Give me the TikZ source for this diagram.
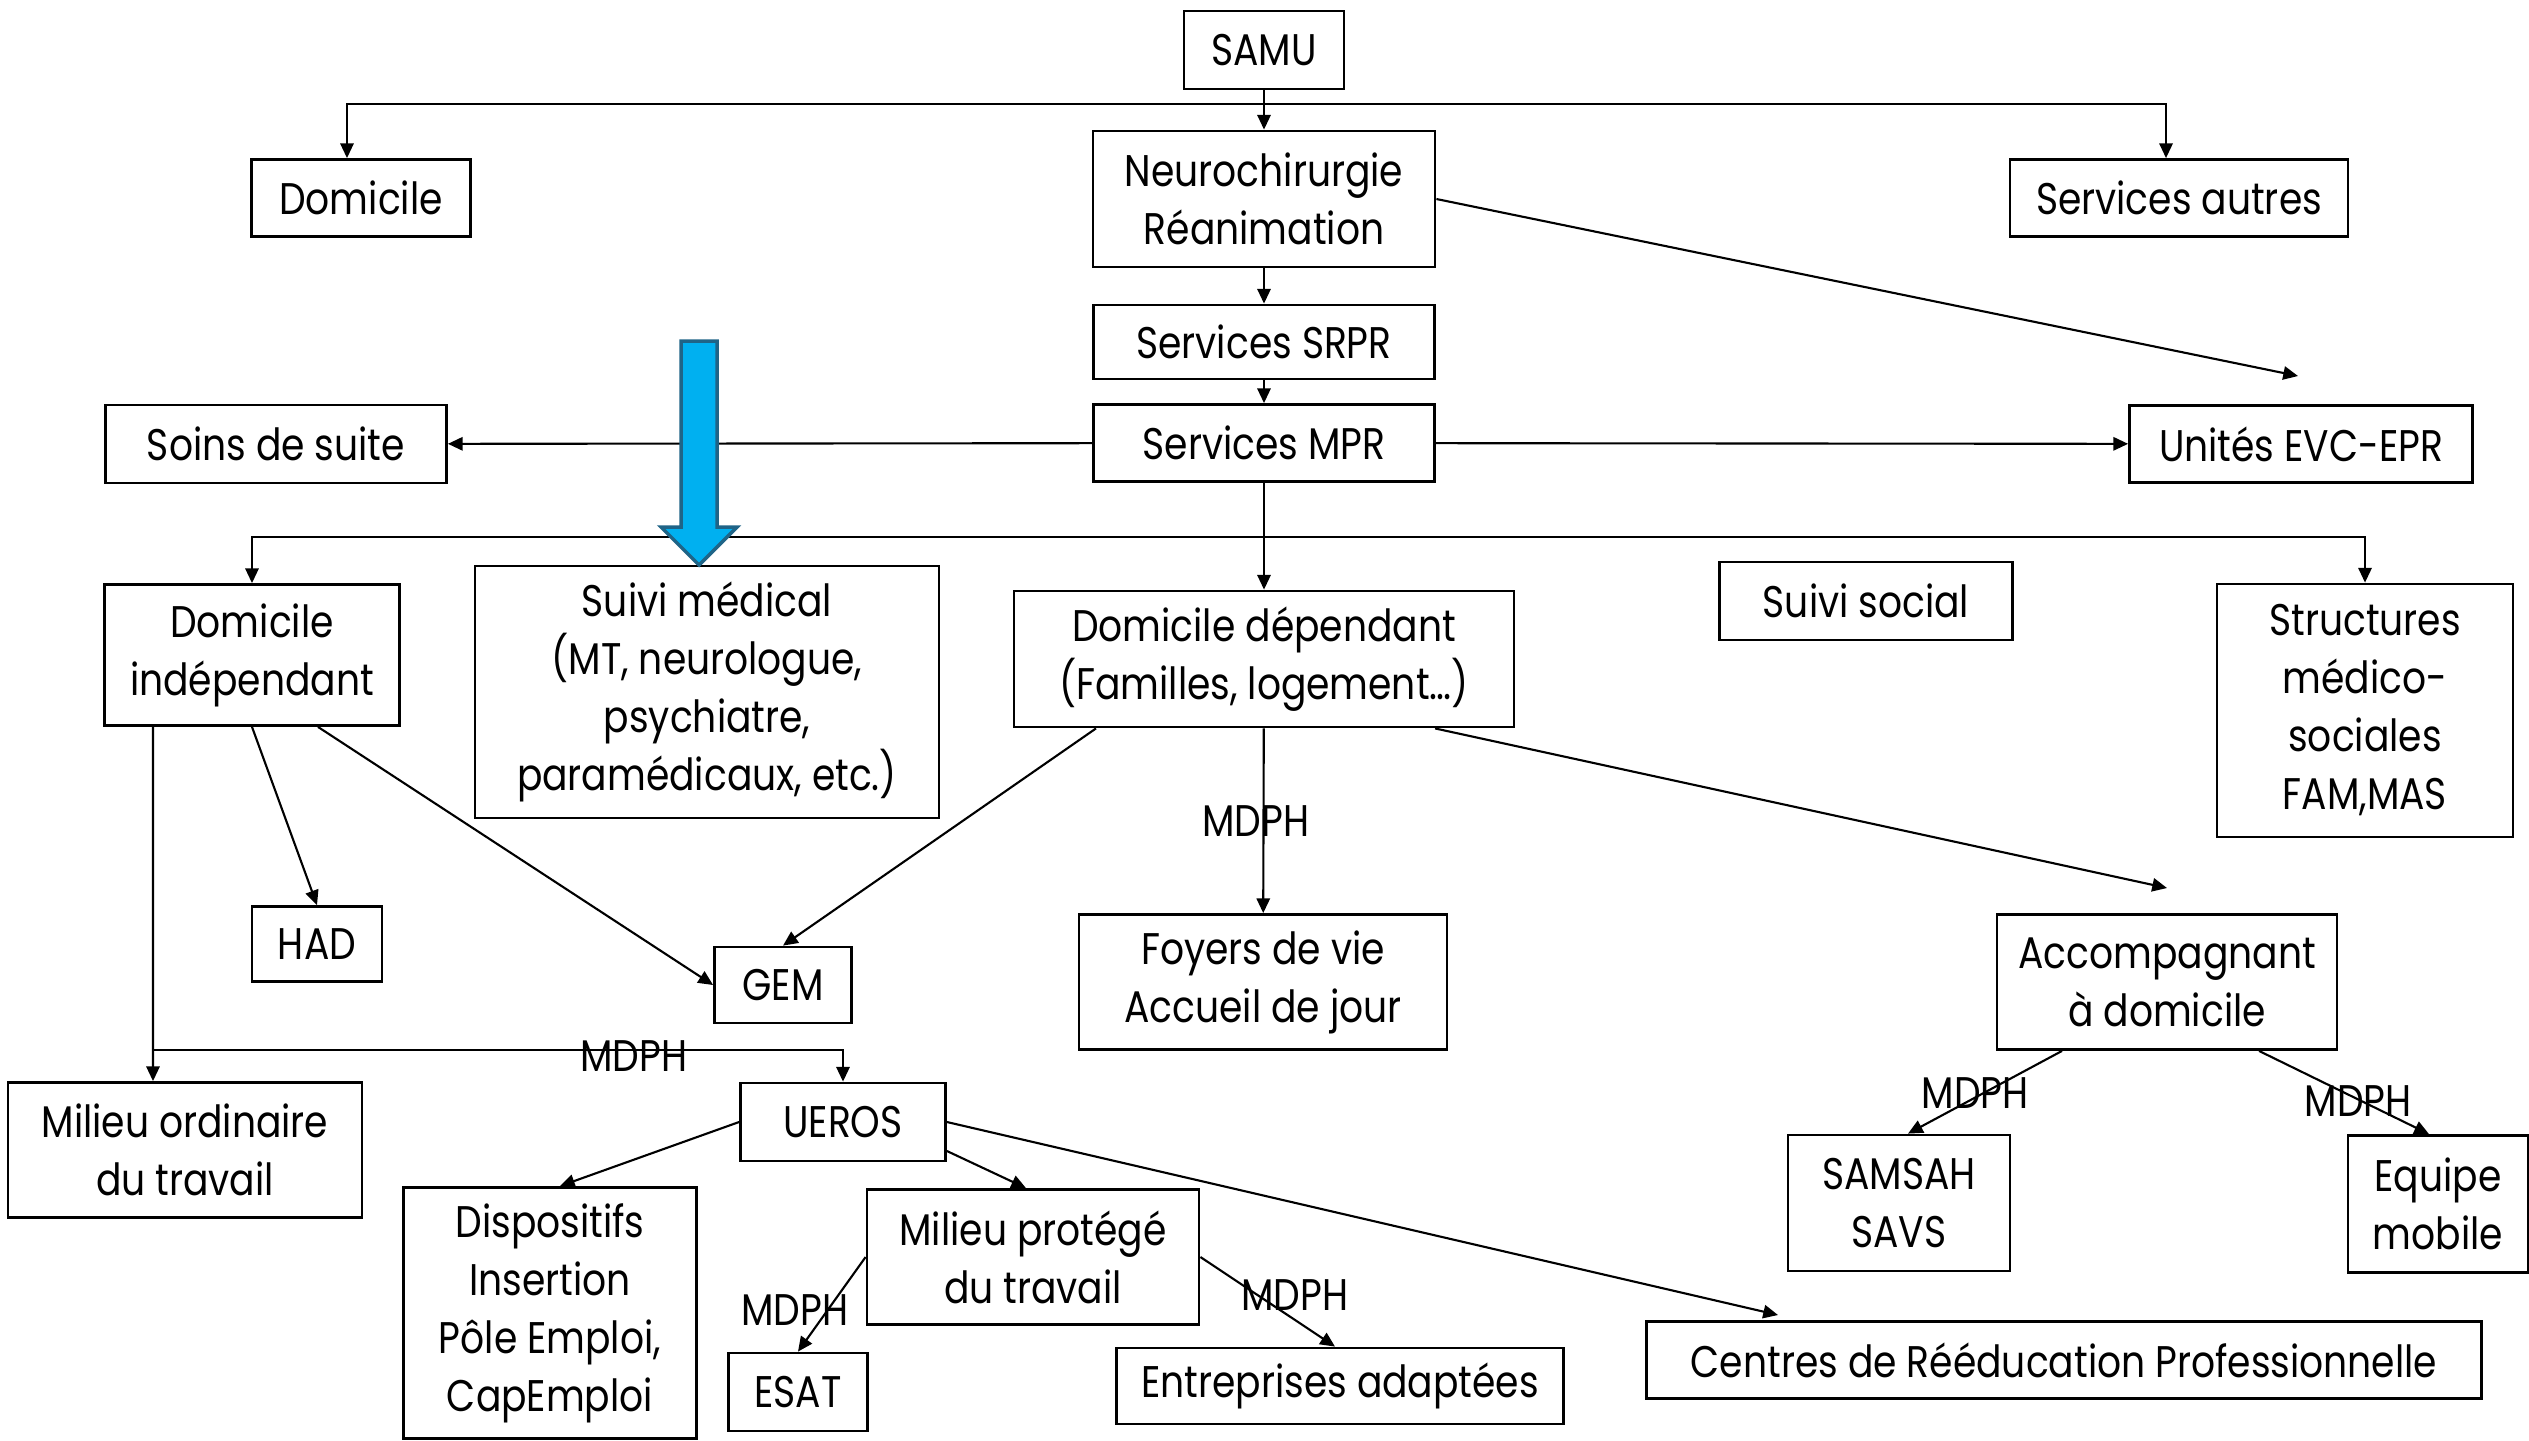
\documentclass[tikz,border=0pt]{standalone}
\usepackage{fontspec}
\setmainfont{Poppins}[FakeStretch=0.85]
\usetikzlibrary{arrows.meta}

\tikzset{
	box/.style={draw, line width=0.8pt, align=center, inner sep=0pt,
		font=\fontsize{12.6}{16.5}\selectfont},
	arr/.style={-{Triangle[length=4.2pt,width=3.8pt]}, line width=0.6pt},
	lbl/.style={inner sep=0pt, font=\fontsize{12.6}{14}\selectfont},
}

\begin{document}
\begin{tikzpicture}
	\useasboundingbox (0,0) rectangle (25.29,-14.40);
	% top of the chain
	\node[box, minimum width=1.60cm, minimum height=0.78cm] (samu) at (12.64,-0.50) {SAMU};
	\node[box, minimum width=3.42cm, minimum height=1.36cm] (neuro) at (12.64,-1.99) {Neurochirurgie\\Réanimation};
	\node[box, minimum width=2.19cm, minimum height=0.77cm] (dom) at (3.61,-1.98) {Domicile};
	\node[box, minimum width=3.38cm, minimum height=0.77cm] (autres) at (21.79,-1.98) {Services autres};
	\node[box, minimum width=3.41cm, minimum height=0.74cm] (srpr) at (12.64,-3.42) {Services SRPR};
	\node[box, minimum width=3.41cm, minimum height=0.77cm] (mpr) at (12.64,-4.43) {Services MPR};
	\node[box, minimum width=3.41cm, minimum height=0.78cm] (soins) at (2.76,-4.44) {Soins de suite};
	\node[box, minimum width=3.43cm, minimum height=0.77cm] (evc) at (23.01,-4.44) {Unités EVC-EPR};
	% after MPR
	\node[box, minimum width=2.95cm, minimum height=1.41cm] (domind) at (2.52,-6.55) {Domicile\\indépendant};
	\node[box, minimum width=4.64cm, minimum height=2.52cm] (medical) at (7.07,-6.92) {Suivi médical\\(MT, neurologue,\\psychiatre,\\paramédicaux, etc.)};
	\node[box, minimum width=5.00cm, minimum height=1.36cm] (domdep) at (12.64,-6.59) {Domicile dépendant\\(Familles, logement…)};
	\node[box, minimum width=2.93cm, minimum height=0.78cm] (social) at (18.66,-6.01) {Suivi social};
	\node[box, minimum width=2.96cm, minimum height=2.53cm] (struct) at (23.65,-7.105) {Structures\\médico-\\sociales\\FAM,MAS};
	\node[box, minimum width=1.30cm, minimum height=0.75cm] (had) at (3.17,-9.44) {HAD};
	\node[box, minimum width=1.37cm, minimum height=0.76cm] (gem) at (7.83,-9.85) {GEM};
	\node[box, minimum width=3.68cm, minimum height=1.35cm] (foyers) at (12.63,-9.82) {Foyers de vie\\Accueil de jour};
	\node[box, minimum width=3.40cm, minimum height=1.35cm] (acc) at (21.67,-9.82) {Accompagnant\\à domicile};
	% work
	\node[box, minimum width=3.54cm, minimum height=1.35cm] (milord) at (1.85,-11.50) {Milieu ordinaire\\du travail};
	\node[box, minimum width=2.05cm, minimum height=0.78cm] (ueros) at (8.43,-11.22) {UEROS};
	\node[box, minimum width=2.93cm, minimum height=2.51cm] (disp) at (5.50,-13.13) {Dispositifs\\Insertion\\Pôle Emploi,\\CapEmploi};
	\node[box, minimum width=3.32cm, minimum height=1.35cm] (milprot) at (10.33,-12.57) {Milieu protégé\\du travail};
	\node[box, minimum width=1.39cm, minimum height=0.78cm] (esat) at (7.98,-13.92) {ESAT};
	\node[box, minimum width=4.47cm, minimum height=0.76cm] (entr) at (13.40,-13.86) {Entreprises adaptées};
	\node[box, minimum width=8.35cm, minimum height=0.77cm] (crp) at (20.64,-13.60) {Centres de Rééducation Professionnelle};
	\node[box, minimum width=2.22cm, minimum height=1.36cm] (samsah) at (18.99,-12.03) {SAMSAH\\SAVS};
	\node[box, minimum width=1.80cm, minimum height=1.37cm] (equipe) at (24.38,-12.04) {Equipe\\mobile};

	\coordinate (hubA) at (12.64,-1.04);
	\coordinate (hubB) at (12.64,-5.37);
	\coordinate (hubC) at (1.53,-10.50);
	\coordinate (evcend) at (22.98,-3.76);
	\coordinate (accend) at (21.67,-8.88);
	\coordinate (crpend) at (17.78,-13.15);

	\draw[arr] (samu) -- (neuro);
	\draw[arr] (hubA) -| ([xshift=-1.4mm]dom.north);
	\draw[arr] (hubA) -| ([xshift=-1.3mm]autres.north);
	\draw[arr] (neuro) -- (srpr);
	\draw[arr] (neuro.east) -- (evcend);
	\draw[arr] (srpr) -- (mpr);
	\draw[arr] (mpr) -- (soins);
	\draw[arr] (mpr) -- (evc);

	\draw[arr] (mpr) -- (domdep);
	\draw[arr] (hubB) -| (domind.north);
	\draw[arr] (hubB) -| (struct.north);

	\draw[arr] (domind.south) -- (had.north);
	\draw[arr] ([xshift=6.6mm]domind.south) -- (gem.west);
	\draw[arr] ([xshift=-9.9mm]domind.south) -- ([xshift=-3.2mm]milord.north);
	\draw[arr] (hubC) -| (ueros.north);
	\node[lbl] (mdphA) at (6.34,-10.56) {MDPH};

	\draw[arr] ([xshift=-16.8mm]domdep.south) -- (gem.north);
	\draw[arr] (domdep) -- (foyers);
	\node[lbl] (mdphB) at (12.56,-8.21) {MDPH};
	\draw[arr] ([xshift=17.1mm]domdep.south) -- (accend);

	\draw[arr] (ueros.west) -- ([xshift=1mm]disp.north);
	\draw[arr] ([yshift=-2.9mm]ueros.east) -- ([xshift=-0.7mm]milprot.north);
	\draw[arr] (ueros.east) -- (crpend);
	\draw[arr] (milprot.west) -- (esat.north);
	\node[lbl] (mdphC) at (7.95,-13.10) {MDPH};
	\draw[arr] (milprot.east) -- ([xshift=-0.5mm]entr.north);
	\node[lbl] (mdphD) at (12.95,-12.95) {MDPH};

	\draw[arr] ([xshift=-10.5mm]acc.south) -- ([xshift=0.9mm]samsah.north);
	\node[lbl] (mdphE) at (19.75,-10.93) {MDPH};
	\draw[arr] ([xshift=9.2mm]acc.south) -- ([xshift=-0.9mm]equipe.north);
	\node[lbl] (mdphF) at (23.58,-11.01) {MDPH};

	% big blue arrow
	\draw[line width=1pt, draw={rgb,255:red,31;green,100;blue,135}, fill={rgb,255:red,0;green,176;blue,240}]
		(6.81,-3.41) -- (7.17,-3.41) -- (7.17,-5.27) -- (7.37,-5.27) -- (6.99,-5.65)
		-- (6.61,-5.27) -- (6.81,-5.27) -- cycle;
\end{tikzpicture}
\end{document}
